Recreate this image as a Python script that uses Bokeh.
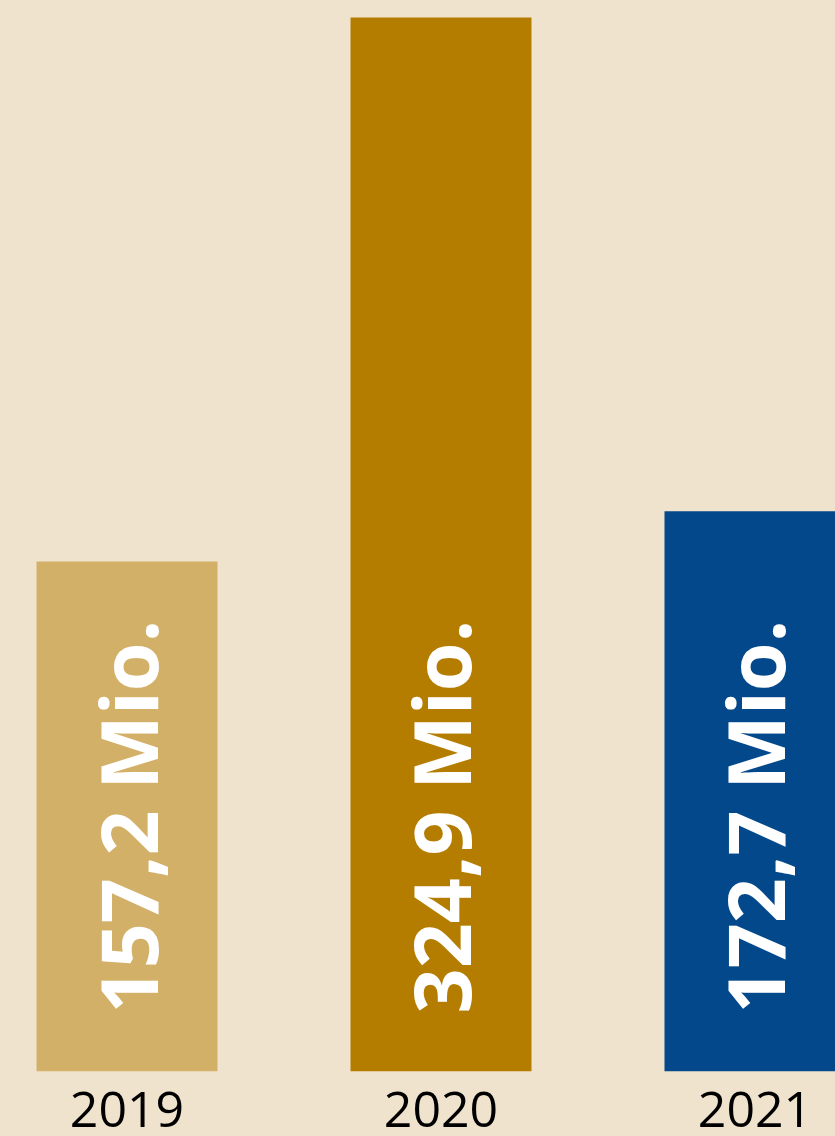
import math
from bokeh.plotting import figure
from bokeh.models import ColumnDataSource, Range1d, FixedTicker
from bokeh.core.properties import value
from bokeh.embed import file_html
from bokeh.resources import INLINE

years = ["2019", "2020", "2021"]
values = [157.2, 324.9, 172.7]
labels = ["157,2 Mio.", "324,9 Mio.", "172,7 Mio."]
colors = ["#D3B068", "#B47D00", "#03488A"]
BG = "#F0E3CD"

xpos = list(range(len(years)))
src = ColumnDataSource(dict(x=xpos, top=values, label=labels, color=colors))

p = figure(frame_width=835, frame_height=1071, output_backend="svg", toolbar_location=None,
           x_range=Range1d(-0.4029, 2.2564), y_range=Range1d(0, 330.14),
           min_border=0, background_fill_color=BG, border_fill_color=BG)
p.outline_line_color = None
p.grid.visible = False
p.yaxis.visible = False

p.vbar(x="x", top="top", bottom=0, width=0.5764, color="color", line_color=None, source=src)

p.text(x="x", y=0, text="label", source=src, angle=math.pi / 2,
       text_align="left", text_baseline="middle",
       x_offset=0, y_offset=-58,
       text_color="white", text_font=value("Open Sans"), text_font_style="bold",
       text_font_size="79px")

ax = p.xaxis[0]
ax.ticker = FixedTicker(ticks=xpos)
ax.major_label_overrides = {i: y for i, y in enumerate(years)}
ax.axis_line_color = None
ax.major_tick_line_color = None
ax.minor_tick_line_color = None
ax.major_label_text_font = "Open Sans"
ax.major_label_text_font_size = "50px"
ax.major_label_text_color = "black"
ax.major_label_standoff = 14

html = file_html(p, INLINE)
html = html.replace("<head>", "<head><style>body{background:#F0E3CD;}</style>", 1)
open("out.html", "w").write(html)
